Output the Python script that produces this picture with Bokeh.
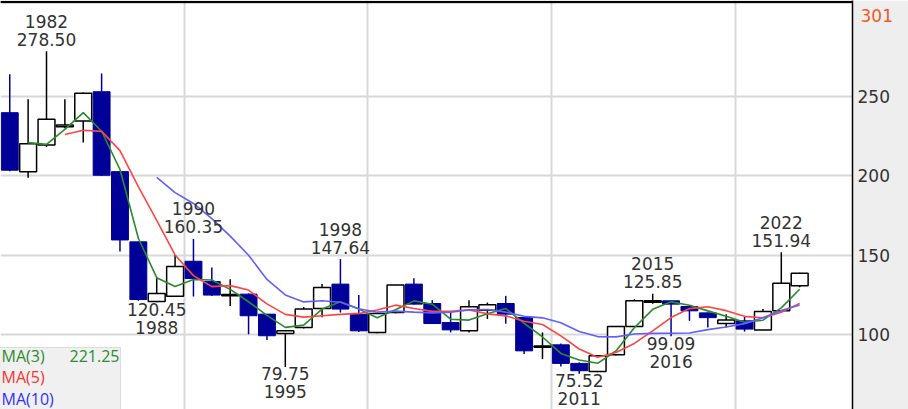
import pandas as pd
from bokeh.plotting import figure
from bokeh.models import (Range1d, LinearAxis, FixedTicker, Grid, Label,
                          BoxAnnotation, ColumnDataSource)
from bokeh.core.properties import value
from bokeh.embed import file_html
from bokeh.resources import INLINE

# ---------------- data ----------------
years = list(range(1980, 2024))
opens = [239.8, 202.7, 219.5, 231.0, 234.6, 253.0, 202.7, 158.5, 120.9, 124.3,
         146.3, 133.5, 124.6, 125.6, 113.0, 100.8, 104.6, 116.5, 131.9, 113.0,
         101.5, 114.0, 131.9, 119.7, 107.7, 102.5, 115.5, 119.7, 110.9, 92.2,
         93.7, 82.0, 76.9, 87.4, 105.2, 120.5, 121.4, 117.8, 113.8, 107.1,
         108.8, 103.1, 115.1, 130.8]
highs = [264.0, 248.2, 278.50, 248.2, 252.5, 264.4, 203.0, 158.5, 136.0, 150.3,
         160.35, 142.3, 135.0, 126.0, 113.0, 103.0, 117.5, 132.0, 147.64, 125.0,
         113.5, 131.5, 135.6, 121.8, 114.7, 121.8, 120.3, 124.5, 111.0, 101.5,
         94.5, 82.5, 87.0, 105.5, 122.4, 125.85, 121.5, 118.0, 114.0, 113.0,
         111.3, 116.2, 151.94, 139.0]
lows = [203.0, 198.9, 218.2, 230.0, 221.0, 200.0, 152.4, 121.5, 120.45, 124.0,
        124.1, 124.5, 118.2, 100.4, 96.7, 79.75, 104.0, 111.0, 114.0, 101.7,
        101.0, 113.5, 119.0, 107.0, 101.5, 101.5, 110.0, 107.0, 87.9, 84.7,
        80.0, 75.52, 76.5, 87.0, 105.0, 119.5, 99.09, 108.8, 104.6, 104.6,
        102.0, 103.0, 115.0, 130.0]
closes = [203.6, 220.3, 235.6, 232.0, 252.0, 200.4, 159.7, 122.2, 126.0, 143.0,
          135.4, 125.0, 125.4, 112.0, 99.4, 102.6, 116.2, 129.8, 116.2, 102.5,
          113.4, 131.4, 119.3, 107.1, 103.1, 117.6, 118.9, 113.0, 89.9, 93.0,
          82.0, 77.4, 86.8, 105.2, 121.4, 121.5, 119.3, 115.1, 110.8, 109.3,
          103.6, 114.7, 132.5, 138.8]
prior_close = [239.0]          # 1979 close, only seeds the moving averages

ma_periods = [3, 5, 10]
ma_names = ["MA(3)", "MA(5)", "MA(10)"]
legend_value_text = "221.25"
axis_ticks = [100, 150, 200, 250]
top_tick = [301]
above_years = [1982, 1990, 1998, 2015, 2022]
below_years = [1988, 1995, 2011, 2016]
decade_lines = [1989.5, 1999.5, 2009.5, 2019.5]

# ---------------- styles ----------------
UP_LINE = "#000000"
DOWN_COLOR = "#000099"
MA_COLORS = ["#2a8a2a", "#ff4444", "#6060ff"]
LEG_COLORS = ["#2e8b2e", "#ff3030", "#3030ff"]
TXT = "#333333"
GRID = "#d8d8d8"
FONT = value("DejaVu Sans")

W, H, RIGHT = 908, 409, 56
X0, X1 = 1979.496, 2025.876
Y0, Y1 = 52.99, 310.4

p = figure(width=W, height=H, x_range=Range1d(X0, X1), y_range=Range1d(Y0, Y1),
           output_backend="svg", toolbar_location=None,
           x_axis_location=None, y_axis_location=None,
           min_border_left=0, min_border_top=0, min_border_bottom=0,
           min_border_right=RIGHT)
p.outline_line_color = None
p.border_fill_color = "#eeeeee"
p.background_fill_color = "#ffffff"
for g in p.grid:
    g.visible = False

p.add_layout(Grid(dimension=1, ticker=FixedTicker(ticks=axis_ticks),
                  grid_line_color=GRID, grid_line_width=2))
p.add_layout(Grid(dimension=0, ticker=FixedTicker(ticks=decade_lines),
                  grid_line_color=GRID, grid_line_width=2))

yax = LinearAxis(ticker=FixedTicker(ticks=axis_ticks))
yax.axis_line_color = "#000000"
yax.axis_line_width = 1.5
yax.major_tick_line_color = None
yax.minor_tick_line_color = None
yax.major_tick_out = 0
yax.major_tick_in = 0
yax.major_label_standoff = 5
yax.major_label_text_font = "DejaVu Sans"
yax.major_label_text_font_size = "17px"
yax.major_label_text_color = TXT
p.add_layout(yax, "right")

# second right axis only carries the orange top value; pulled back over the first one
top_ax = LinearAxis(ticker=FixedTicker(ticks=top_tick))
top_ax.axis_line_color = None
top_ax.major_tick_line_color = None
top_ax.minor_tick_line_color = None
top_ax.major_tick_out = 0
top_ax.major_tick_in = 0
top_ax.major_label_standoff = -32
top_ax.major_label_text_font = "DejaVu Sans"
top_ax.major_label_text_font_size = "17px"
top_ax.major_label_text_color = "#f05a28"
p.add_layout(top_ax, "right")

# top border of the plot area (explicit edges, screen units)
p.add_layout(BoxAnnotation(left=0, right=W - RIGHT, top=H - 0.5, bottom=H - 2.5,
                           left_units="screen", right_units="screen",
                           top_units="screen", bottom_units="screen",
                           fill_color="#000000", fill_alpha=1,
                           line_color="#000000", line_width=1))

# ---------------- candles ----------------
df = pd.DataFrame(dict(year=years, open=opens, high=highs, low=lows, close=closes))
df["top"] = df[["open", "close"]].max(axis=1)
df["bottom"] = df[["open", "close"]].min(axis=1)
up = ColumnDataSource(df[df.close >= df.open])
dn = ColumnDataSource(df[df.close < df.open])

p.segment(x0="year", y0="low", x1="year", y1="high", source=up, line_color=UP_LINE, line_width=1.5)
p.segment(x0="year", y0="low", x1="year", y1="high", source=dn, line_color=DOWN_COLOR, line_width=1.5)
p.vbar(x="year", width=0.92, top="top", bottom="bottom", source=up,
       fill_color="#ffffff", line_color=UP_LINE, line_width=1.5)
p.vbar(x="year", width=0.92, top="top", bottom="bottom", source=dn,
       fill_color=DOWN_COLOR, line_color=DOWN_COLOR, line_width=1)

# ---------------- moving averages ----------------
all_close = pd.Series(prior_close + closes)
for n, col in zip(ma_periods, MA_COLORS):
    ma = all_close.rolling(n).mean().iloc[len(prior_close):].tolist()
    p.line(years, ma, line_color=col, line_width=1.6)

# ---------------- high / low annotations ----------------
idx = {y: i for i, y in enumerate(years)}
ax = above_years
ay = [highs[idx[y]] for y in ax]
p.text(ax, ay, text=[f"{v:.2f}" for v in ay], y_offset=-12, text_align="center",
       text_baseline="alphabetic", text_font=FONT, text_font_size="17px", text_color=TXT)
p.text(ax, ay, text=[str(y) for y in ax], y_offset=-30, text_align="center",
       text_baseline="alphabetic", text_font=FONT, text_font_size="17px", text_color=TXT)
bx = below_years
by = [lows[idx[y]] for y in bx]
p.text(bx, by, text=[f"{v:.2f}" for v in by], y_offset=7, text_align="center",
       text_baseline="alphabetic", text_font=FONT, text_font_size="17px", text_color=TXT)
p.text(bx, by, text=[str(y) for y in bx], y_offset=25, text_align="center",
       text_baseline="alphabetic", text_font=FONT, text_font_size="17px", text_color=TXT)

# ---------------- MA legend box ----------------
p.add_layout(BoxAnnotation(left=0, right=120, bottom=-5, top=62,
                           left_units="screen", right_units="screen",
                           bottom_units="screen", top_units="screen",
                           fill_color="#f0f0f0", fill_alpha=1,
                           line_color="#a0a0a0", line_width=1))
for name, col, yy in zip(ma_names, LEG_COLORS, [54, 32.3, 10.7]):
    p.add_layout(Label(x=1, y=yy, x_units="screen", y_units="screen", text=name,
                       text_font="Open Sans", text_font_size="16px", text_color=col,
                       text_baseline="alphabetic"))
p.add_layout(Label(x=119, y=54, x_units="screen", y_units="screen", text=legend_value_text,
                   text_font="Open Sans", text_font_size="16px", text_color=LEG_COLORS[0],
                   text_align="right", text_baseline="alphabetic"))

open("out.html", "w").write(file_html(p, INLINE))
